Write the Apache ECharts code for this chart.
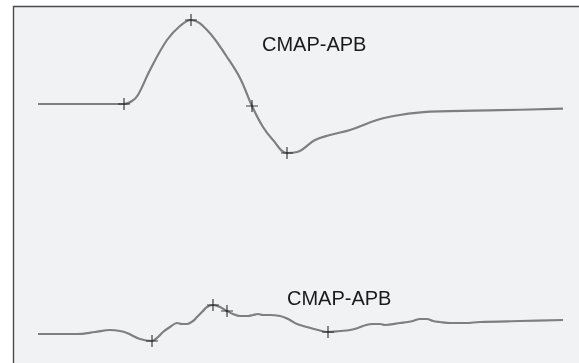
<!DOCTYPE html>
<html>
<head>
<meta charset="utf-8">
<script src="https://cdn.jsdelivr.net/npm/echarts@6/dist/echarts.min.js"></script>
<style>
html,body{margin:0;padding:0;background:#ffffff;}
#chart{width:579px;height:363px;}
</style>
</head>
<body>
<div id="chart"></div>
<script>
// Time in ms, amplitude in mV
var topTime = [0, 2.88, 3.44, 3.76, 4.0, 4.48, 5.16, 5.68, 6.12, 6.76, 7.56, 8.08, 8.56, 9.0, 9.4, 9.96, 10.36, 11.08, 11.68, 12.48, 13.56, 14.48, 15.68, 18.48, 21.0];
var topAmp  = [0, 0, 0, 0.3, 0.9, 3.4, 6.4, 7.8, 8.4, 7.4, 4.7, 2.6, -0.2, -2.3, -3.6, -4.9, -4.8, -3.6, -3.1, -2.6, -1.6, -1.1, -0.77, -0.62, -0.47];
var topMarkTime = [3.44, 6.12, 8.56, 9.96];
var topMarkAmp  = [0, 8.4, -0.2, -4.9];

var botTime = [0, 1.56, 2.28, 2.88, 3.28, 3.56, 4.08, 4.56, 4.8, 5.0, 5.28, 5.56, 5.76, 5.96, 6.2, 6.36, 6.6, 6.76, 7.0, 7.28, 7.56, 7.8, 8.08, 8.4, 8.6, 8.8, 9.0, 9.28, 9.68, 9.92, 10.08, 10.36, 10.76, 11.2, 11.6, 12.08, 12.48, 12.8, 13.12, 13.4, 13.68, 13.88, 14.48, 14.8, 15.0, 15.28, 15.56, 15.8, 16.08, 16.48, 17.08, 17.68, 19.28, 21.0];
var botAmp  = [0, 0, 0.2, 0.4, 0.3, 0.1, -0.5, -0.7, -0.3, 0.2, 0.7, 1.1, 1.0, 1.0, 1.3, 1.7, 2.3, 2.7, 2.9, 2.7, 2.3, 2.0, 1.8, 1.8, 1.9, 2.0, 1.9, 1.9, 1.8, 1.6, 1.4, 1.0, 0.7, 0.4, 0.2, 0.3, 0.4, 0.6, 0.9, 1.0, 1.0, 0.9, 1.1, 1.2, 1.3, 1.5, 1.5, 1.3, 1.2, 1.1, 1.1, 1.2, 1.3, 1.4];
var botMarkTime = [4.56, 7.0, 7.56, 11.6];
var botMarkAmp  = [-0.7, 2.9, 2.3, 0.2];

var topLabel = "CMAP-APB";
var botLabel = "CMAP-APB";

function pairs(xs, ys){ return xs.map(function(x,i){ return [x, ys[i]]; }); }

var chart = echarts.init(document.getElementById('chart'), null, {renderer:'canvas'});
var crossPath = 'path://M0,6L12,6M6,0L6,12';
var lineColor = '#7f7f7f';

var option = {
  backgroundColor: '#ffffff',
  animation: false,
  graphic: [
    {type:'rect', z:-10, shape:{x:13.5, y:6.5, width:600, height:400},
     style:{fill:'#f1f2f4', stroke:'#4a4a4a', lineWidth:1.4}},
    {type:'text', z:10, x:262, y:45, style:{text:topLabel, fill:'#1a1a1a', font:'20px "Liberation Sans", Arial, sans-serif', textAlign:'left', textVerticalAlign:'middle'}},
    {type:'text', z:10, x:287, y:299.5, style:{text:botLabel, fill:'#1a1a1a', font:'20px "Liberation Sans", Arial, sans-serif', textAlign:'left', textVerticalAlign:'middle'}}
  ],
  grid: [
    {left:38, width:525, top:4, height:170},
    {left:38, width:525, top:234, height:110}
  ],
  xAxis: [
    {type:'value', gridIndex:0, min:0, max:21, show:false},
    {type:'value', gridIndex:1, min:0, max:21, show:false}
  ],
  yAxis: [
    {type:'value', gridIndex:0, min:-7, max:10, show:false},
    {type:'value', gridIndex:1, min:-1, max:10, show:false}
  ],
  series: [
    {type:'line', xAxisIndex:0, yAxisIndex:0, data:pairs(topTime, topAmp), smooth:0.4, showSymbol:false, clip:false,
     lineStyle:{color:lineColor, width:2.2}},
    {type:'line', xAxisIndex:1, yAxisIndex:1, data:pairs(botTime, botAmp), smooth:0.35, showSymbol:false, clip:false,
     lineStyle:{color:lineColor, width:2.2}},
    {type:'scatter', xAxisIndex:0, yAxisIndex:0, data:pairs(topMarkTime, topMarkAmp), symbol:crossPath, symbolSize:12, clip:false, z:5,
     itemStyle:{color:'none', borderColor:'#111111', borderWidth:1.2}},
    {type:'scatter', xAxisIndex:1, yAxisIndex:1, data:pairs(botMarkTime, botMarkAmp), symbol:crossPath, symbolSize:12, clip:false, z:5,
     itemStyle:{color:'none', borderColor:'#111111', borderWidth:1.2}}
  ]
};
chart.setOption(option);
</script>
</body>
</html>
